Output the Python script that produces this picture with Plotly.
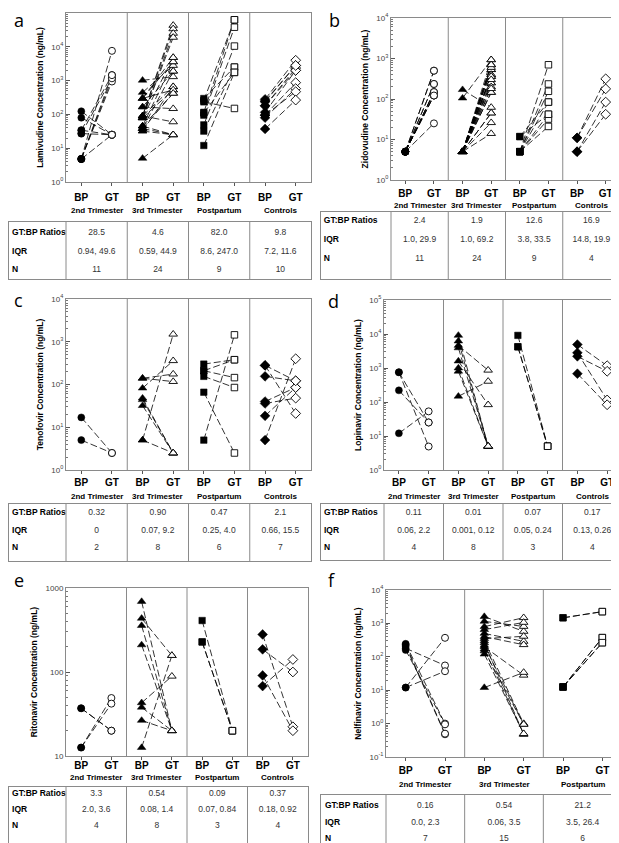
import math
import plotly.graph_objects as go

W, H = 619, 843
FONT = "Liberation Sans, Arial, sans-serif"

GROUPS = ["2nd Trimester", "3rd Trimester", "Postpartum", "Controls"]
ROW_LABELS = ["GT:BP Ratios", "IQR", "N"]
SYMBOLS = ["circle", "triangle-up", "square", "diamond"]
SIZES = [7, 7.5, 6.5, 7.5]

# --- a: Lamivudine (paired BP -> GT values per group)
LAM_BP = [
    [124, 80, 34, 27, 34, 27, 4.8, 4.8, 4.8, 4.8, 4.8],
    [1020, 445, 297, 297, 166, 166, 90, 90, 79, 79, 90, 79, 45, 90, 45, 38, 32, 5, 38, 32, 45, 79, 297, 38],
    [235, 295, 115, 95, 49, 32, 12, 110, 260],
    [280, 235, 180, 115, 95, 80, 95, 37, 180, 250],
]
LAM_GT = [
    [25, 25, 1450, 25, 25, 1170, 7600, 940, 1170, 25, 1450],
    [1300, 2800, 4800, 3600, 148, 1900, 43000, 34000, 25000, 19000, 660, 530, 420, 60, 25, 25, 25, 25, 1900, 660, 3600, 4800, 530, 420],
    [150, 2500, 63000, 38000, 10500, 2500, 1750, 1750, 63000],
    [4000, 2800, 2350, 2000, 870, 580, 470, 265, 2000, 2800],
]
LAM_RATIO = ["28.5", "4.6", "82.0", "9.8"]
LAM_IQR = ["0.94, 49.6", "0.59, 44.9", "8.6, 247.0", "7.2, 11.6"]
LAM_N = ["11", "24", "9", "10"]

# --- b: Zidovudine
ZDV_BP = [
    [5] * 11,
    [105, 170] + [5] * 22,
    [11.8, 11.8, 5, 5, 5, 5, 5, 5, 5],
    [11, 11, 5, 5],
]
ZDV_GT = [
    [500, 235, 148, 122, 25, 148, 122, 235, 148, 122, 500],
    [930, 62, 930, 700, 700, 530, 530, 400, 400, 360, 360, 250, 250, 145, 145, 45, 45, 26, 14, 300, 600, 200, 180, 700],
    [84, 42, 700, 235, 155, 32, 21, 84, 42],
    [315, 178, 84, 42],
]
ZDV_RATIO = ["2.4", "1.9", "12.6", "16.9"]
ZDV_IQR = ["1.0, 29.9", "1.0, 69.2", "3.8, 33.5", "14.8, 19.9"]
ZDV_N = ["11", "24", "9", "4"]

# --- c: Tenofovir
TDF_BP = [
    [17, 5],
    [140, 82, 48, 44, 32, 5, 5, 140],
    [300, 210, 155, 66, 5, 210],
    [280, 155, 40, 36, 18.5, 5, 280],
]
TDF_GT = [
    [2.5, 2.5],
    [175, 360, 2.5, 2.5, 2.5, 1500, 2.5, 117],
    [380, 145, 85, 2.5, 1450, 380],
    [21, 122, 85, 48, 85, 400, 122],
]
TDF_RATIO = ["0.32", "0.90", "0.47", "2.1"]
TDF_IQR = ["0", "0.07, 9.2", "0.25, 4.0", "0.66, 15.5"]
TDF_N = ["2", "8", "6", "7"]

# --- d: Lopinavir
LPV_BP = [
    [750, 220, 12, 750],
    [9100, 6200, 4600, 3900, 1600, 1000, 800, 147],
    [9100, 4200, 4200],
    [4900, 2200, 2800, 680],
]
LPV_GT = [
    [4.9, 25, 53, 25],
    [5, 5, 860, 5, 83, 5, 5, 405],
    [5, 5, 5],
    [1170, 800, 115, 83],
]
LPV_RATIO = ["0.11", "0.01", "0.07", "0.17"]
LPV_IQR = ["0.06, 2.2", "0.001, 0.12", "0.05, 0.24", "0.13, 0.26"]
LPV_N = ["4", "8", "3", "4"]

# --- e: Ritonavir
RTV_BP = [
    [37, 12.6, 12.6, 37],
    [690, 435, 357, 210, 43, 38, 26.5, 12.6],
    [410, 228, 228],
    [280, 186, 91, 68],
]
RTV_GT = [
    [20, 49, 42, 20],
    [20, 157, 20, 20, 89, 20, 20, 157],
    [20, 20, 20],
    [22.3, 100, 20, 141],
]
RTV_RATIO = ["3.3", "0.54", "0.09", "0.37"]
RTV_IQR = ["2.0, 3.6", "0.08, 1.4", "0.07, 0.84", "0.18, 0.92"]
RTV_N = ["4", "8", "3", "4"]

# --- f: Nelfinavir
NFV_BP = [
    [245, 210, 180, 160, 12, 12, 230],
    [1600, 1150, 800, 650, 500, 400, 350, 300, 260, 220, 200, 170, 150, 120, 12],
    [1470, 12.5, 12.5, 12.5, 12.5, 1470],
]
NFV_GT = [
    [1.0, 0.48, 55, 0.95, 370, 37, 0.5],
    [575, 810, 1480, 1070, 290, 230, 410, 1.0, 0.48, 0.95, 28, 0.48, 0.95, 0.5, 34],
    [2250, 375, 265, 375, 265, 2250],
]
NFV_RATIO = ["0.16", "0.54", "21.2"]
NFV_IQR = ["0.0, 2.3", "0.06, 3.5", "3.5, 26.4"]
NFV_N = ["7", "15", "6"]

POW = [0.1, 1, 10, 100, 1000, 10000, 100000]
POW_TEXT = ["10<sup>-1</sup>", "10<sup>0</sup>", "10<sup>1</sup>", "10<sup>2</sup>",
            "10<sup>3</sup>", "10<sup>4</sup>", "10<sup>5</sup>"]

# layout of each panel, in pixels
PANELS = [
    dict(letter="a", title="Lamivudine Concentration (ng/mL)", bp=LAM_BP, gt=LAM_GT,
         table=[LAM_RATIO, LAM_IQR, LAM_N], yr=(1, 1e5), ticks=(POW[1:], POW_TEXT[1:]),
         plot=(58, 303, 5, 174), tab=(1, 214, 271), rows=(225, 262), lab=3, name=202, let=(4, 12)),
    dict(letter="b", title="Zidovudine Concentration (ng/mL)", bp=ZDV_BP, gt=ZDV_GT,
         table=[ZDV_RATIO, ZDV_IQR, ZDV_N], yr=(1, 1e4), ticks=(POW[1:6], POW_TEXT[1:6]),
         plot=(383, 612, 10, 172), tab=(313, 204, 271), rows=(213, 251), lab=1, name=197, let=(319, 12)),
    dict(letter="c", title="Tenofovir Concentration (ng/mL)", bp=TDF_BP, gt=TDF_GT,
         table=[TDF_RATIO, TDF_IQR, TDF_N], yr=(1, 1e4), ticks=(POW[1:6], POW_TEXT[1:6]),
         plot=(58, 303, 291, 462), tab=(1, 496, 553), rows=(505, 540), lab=0, name=488, let=(4, 292)),
    dict(letter="d", title="Lopinavir Concentration (ng/mL)", bp=LPV_BP, gt=LPV_GT,
         table=[LPV_RATIO, LPV_IQR, LPV_N], yr=(1, 1e5), ticks=(POW[1:], POW_TEXT[1:]),
         plot=(376, 614, 292, 462), tab=(313, 496, 552), rows=(505, 540), lab=0, name=488, let=(318, 293)),
    dict(letter="e", title="Ritonavir Concentration (ng/mL)", bp=RTV_BP, gt=RTV_GT,
         table=[RTV_RATIO, RTV_IQR, RTV_N], yr=(10, 1000), ticks=([10, 100, 1000], ["10", "100", "1000"]),
         plot=(58, 300, 580, 748), tab=(1, 779, 840), rows=(786, 818), lab=-3, name=769, let=(4, 572)),
    dict(letter="f", title="Nelfinavir Concentration (ng/mL)", bp=NFV_BP, gt=NFV_GT,
         table=[NFV_RATIO, NFV_IQR, NFV_N], yr=(0.1, 1e4), ticks=(POW[:6], POW_TEXT[:6]),
         plot=(378, 614, 582, 749), tab=(313, 787, 843), rows=(798, 831), lab=1, name=776, let=(318, 572)),
]


def fx(p):
    return p / W


def fy(p):
    return 1 - p / H


def ax(letter, i):
    return letter if i == 1 else "%s%d" % (letter, i)


fig = go.Figure()
layout = dict(width=W, height=H, margin=dict(l=0, r=0, t=0, b=0),
              paper_bgcolor="white", plot_bgcolor="white", showlegend=False,
              font=dict(family=FONT, color="black"))
shapes, annots = [], []
GRAY = "#8a8a8a"

for k, P in enumerate(PANELS):
    pa = 2 * k + 1   # plot axes
    ta = 2 * k + 2   # table axes
    xp, yp = ax("x", pa), ax("y", pa)
    xt, yt = ax("x", ta), ax("y", ta)
    ng = len(P["bp"])
    x0, x1, y0, y1 = P["plot"]
    gw = (x1 - x0) / ng

    for g in range(ng):
        xs, ys = [], []
        for b, t in zip(P["bp"][g], P["gt"][g]):
            xs += [g + 0.25, g + 0.75, None]
            ys += [b, t, None]
        fig.add_trace(go.Scatter(x=xs, y=ys, mode="lines", xaxis=xp, yaxis=yp,
                                 line=dict(color="black", width=0.8, dash="7px,3px"),
                                 hoverinfo="skip"))
    for g in range(ng):
        fig.add_trace(go.Scatter(x=[g + 0.25] * len(P["bp"][g]), y=P["bp"][g], mode="markers",
                                 xaxis=xp, yaxis=yp, cliponaxis=False,
                                 marker=dict(symbol=SYMBOLS[g], size=SIZES[g], color="black",
                                             line=dict(color="black", width=0.5))))
        fig.add_trace(go.Scatter(x=[g + 0.75] * len(P["gt"][g]), y=P["gt"][g], mode="markers",
                                 xaxis=xp, yaxis=yp, cliponaxis=False,
                                 marker=dict(symbol=SYMBOLS[g], size=SIZES[g], color="white",
                                             line=dict(color="black", width=0.9))))

    tv = []
    for g in range(ng):
        tv += [g + 0.25, g + 0.75]
    layout[ax("xaxis", pa)] = dict(
        domain=[fx(x0), fx(x1)], anchor=yp, range=[0, ng], tickmode="array",
        tickvals=tv, ticktext=["BP", "GT"] * ng, ticks="outside", ticklen=3,
        tickcolor="#555", ticklabelstandoff=P["lab"], automargin=False,
        tickfont=dict(size=10, family=FONT, weight="bold", color="black"),
        showline=True, mirror=True, linecolor=GRAY, linewidth=1,
        showgrid=False, zeroline=False, fixedrange=True)
    ylo, yhi = P["yr"]
    layout[ax("yaxis", pa)] = dict(
        domain=[fy(y1), fy(y0)], anchor=xp, type="log", automargin=False,
        range=[math.log10(ylo), math.log10(yhi)], tickmode="array",
        tickvals=P["ticks"][0], ticktext=P["ticks"][1],
        ticks="inside", ticklen=4, tickcolor="#555",
        minor=dict(ticks="inside", ticklen=2, tickcolor="#777", dtick="D1", showgrid=False),
        tickfont=dict(size=8, color="#444", family=FONT),
        title=dict(text=P["title"], standoff=6,
                   font=dict(size=8.5, weight="bold", family=FONT, color="black")),
        showline=True, mirror=True, linecolor=GRAY, linewidth=1,
        showgrid=False, zeroline=False, fixedrange=True)

    for g in range(1, ng):
        shapes.append(dict(type="line", xref=xp, yref=yp + " domain", x0=g, x1=g, y0=0, y1=1,
                           line=dict(color=GRAY, width=1)))
    for g in range(ng):
        annots.append(dict(xref=xp, yref="paper", x=g + 0.5, y=fy(P["name"]),
                           text=GROUPS[g], showarrow=False, yanchor="middle",
                           font=dict(size=8, weight="bold", family=FONT, color="black")))
    annots.append(dict(xref="paper", yref="paper", x=fx(P["let"][0]), y=fy(P["let"][1]),
                       text=P["letter"], showarrow=False, xanchor="left", yanchor="middle",
                       font=dict(size=18, family="Open Sans, sans-serif", color="black")))

    # table
    tl, tt, tb = P["tab"]
    r0, r2 = P["rows"]
    sp = (r2 - r0) / 2
    fw = (x0 - tl) / gw
    layout[ax("xaxis", ta)] = dict(
        domain=[fx(tl), fx(x1)], anchor=yt, range=[-fw, ng], showticklabels=False,
        ticks="", showline=True, mirror=True, linecolor=GRAY, linewidth=1, automargin=False,
        showgrid=False, zeroline=False, fixedrange=True)
    layout[ax("yaxis", ta)] = dict(
        domain=[fy(tb), fy(tt)], anchor=xt, automargin=False,
        range=[2 + (tb - r2) / sp, -(r0 - tt) / sp], showticklabels=False,
        ticks="", showline=True, mirror=True, linecolor=GRAY, linewidth=1,
        showgrid=False, zeroline=False, fixedrange=True)
    for g in range(ng):
        shapes.append(dict(type="line", xref=xt, yref=yt + " domain", x0=g, x1=g, y0=0, y1=1,
                           line=dict(color=GRAY, width=1)))
    fig.add_trace(go.Scatter(x=[-fw + 0.05] * 3, y=[0, 1, 2], text=ROW_LABELS, mode="text",
                             xaxis=xt, yaxis=yt, textposition="middle right",
                             textfont=dict(size=8.5, weight="bold", family=FONT, color="black")))
    tx, ty, tx_text = [], [], []
    for r, row in enumerate(P["table"]):
        for g, v in enumerate(row):
            tx.append(g + 0.5)
            ty.append(r)
            tx_text.append(v)
    fig.add_trace(go.Scatter(x=tx, y=ty, text=tx_text, mode="text", xaxis=xt, yaxis=yt,
                             textposition="middle center",
                             textfont=dict(size=8.5, family=FONT, color="#333")))

layout["shapes"] = shapes
layout["annotations"] = annots
fig.update_layout(**layout)
fig.write_html("out.html")
